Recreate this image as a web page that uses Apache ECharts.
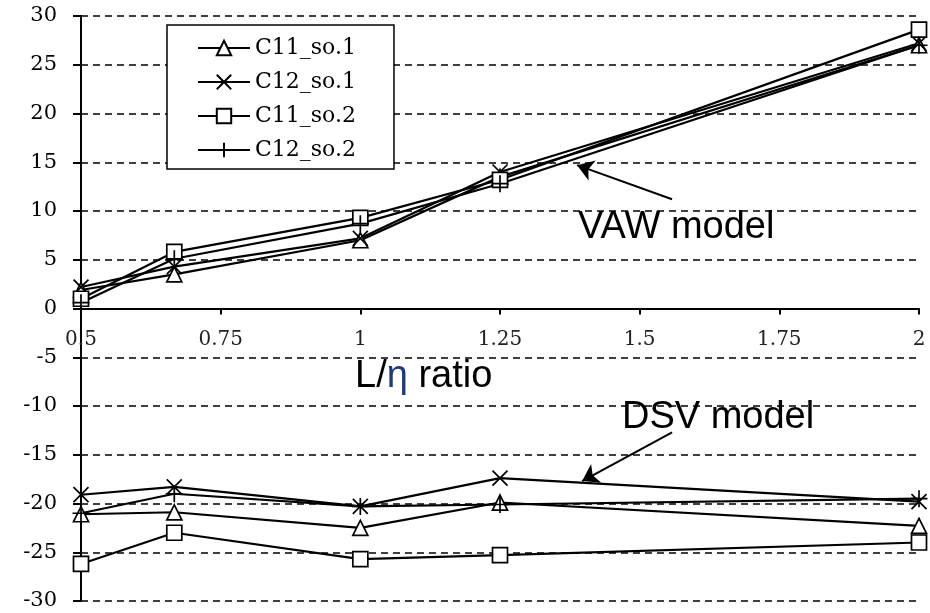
<!DOCTYPE html>
<html>
<head>
<meta charset="utf-8">
<script src="https://cdn.jsdelivr.net/npm/echarts@6/dist/echarts.min.js"></script>
<style>
  html, body { margin: 0; padding: 0; background: #fff; }
  #main { width: 930px; height: 613px; }
</style>
</head>
<body>
<div id="main"></div>
<script>
// x positions (L/eta ratio)
var xVals = [0.5, 0.667, 1, 1.25, 2];

// VAW model (upper group)
var vawC11s01 = [1.9, 3.5, 7.0, 13.5, 27.0];
var vawC12s01 = [2.2, 4.3, 7.2, 14.0, 27.2];
var vawC11s02 = [1.0, 5.8, 9.3, 13.2, 28.6];
var vawC12s02 = [0.6, 5.1, 8.7, 12.8, 27.0];

// DSV model (lower group)
var dsvC11s01 = [-21.1, -20.9, -22.5, -19.9, -22.3];
var dsvC12s01 = [-19.1, -18.3, -20.3, -17.4, -19.8];
var dsvC11s02 = [-26.2, -23.0, -25.7, -25.3, -24.0];
var dsvC12s02 = [-21.0, -19.0, -20.3, -20.1, -19.5];

var names = ['C11_so.1', 'C12_so.1', 'C11_so.2', 'C12_so.2'];

// arrows for the annotations, in data units [from, to]
var vawArrow = [[1.558, 11.2], [1.388, 14.7]];
var dsvArrow = [[1.558, -12.7], [1.397, -17.7]];

var symX = 'path://M0,0 L10,10 M10,0 L0,10';
var symPlus = 'path://M5,0 L5,10 M0,5 L10,5';
var symbols = [['triangle', 15], [symX, 15], ['rect', 15], [symPlus, 17]];

function pairs(arr) {
	return xVals.map(function (x, i) { return [x, arr[i]]; });
}

function mk(idx, arr, arrow) {
	var s = {
		name: names[idx],
		type: 'line',
		data: pairs(arr),
		symbol: symbols[idx][0],
		symbolSize: symbols[idx][1],
		showAllSymbol: true,
		lineStyle: { color: '#000', width: 2.2 },
		itemStyle: { color: '#fff', borderColor: '#000', borderWidth: 1.7 },
		emphasis: { disabled: true },
		clip: false
	};
	if (arrow) {
		s.markLine = {
			silent: true,
			symbol: ['none', 'arrow'],
			symbolSize: 16,
			label: { show: false },
			lineStyle: { color: '#000', width: 2, type: 'solid' },
			data: [[{ coord: arrow[0] }, { coord: arrow[1] }]]
		};
	}
	return s;
}

var myChart = echarts.init(document.getElementById('main'));

var option = {
	animation: false,
	backgroundColor: '#fff',
	grid: { left: 81, right: 11, top: 16, bottom: 12, containLabel: false, outerBoundsMode: 'none' },
	legend: {
		orient: 'vertical',
		left: 167,
		top: 25,
		data: names,
		itemWidth: 52,
		itemHeight: 18,
		itemGap: 12,
		padding: [12, 38, 8, 30],
		borderColor: '#000',
		borderWidth: 1.5,
		borderRadius: 0,
		backgroundColor: '#fff',
		selectedMode: false,
		textStyle: { fontFamily: 'DejaVu Serif', fontSize: 22, color: '#000' }
	},
	xAxis: [{
		type: 'value',
		min: 0.5,
		max: 2,
		interval: 0.25,
		axisLine: { onZero: true, lineStyle: { color: '#000', width: 2 } },
		axisTick: { show: true, inside: false, length: 6, lineStyle: { color: '#000', width: 2 } },
		axisLabel: { show: false },
		splitLine: { show: false }
	}, {
		// label row drawn along the zero line
		type: 'value',
		gridIndex: 0,
		position: 'bottom',
		offset: -292,
		min: 0.5,
		max: 2,
		interval: 0.25,
		axisLine: { show: false, onZero: false },
		axisTick: { show: false },
		axisLabel: {
			margin: 21,
			fontFamily: 'DejaVu Serif',
			fontSize: 20,
			color: '#222',
			showMinLabel: true,
			showMaxLabel: true
		},
		splitLine: { show: false }
	}],
	yAxis: {
		type: 'value',
		min: -30,
		max: 30,
		interval: 5,
		axisLine: { show: true, lineStyle: { color: '#000', width: 2 } },
		axisTick: { show: true, inside: false, length: 8, lineStyle: { color: '#000', width: 2 } },
		axisLabel: { margin: 24, fontFamily: 'DejaVu Serif', fontSize: 21, color: '#000' },
		splitLine: { show: true, lineStyle: { color: '#000', width: 1.5, type: [7, 5] } }
	},
	graphic: [
		{
			type: 'text', x: 578, y: 228, silent: true,
			style: { text: 'VAW model', font: '38px "Liberation Sans", Arial', fill: '#000', textVerticalAlign: 'middle' }
		},
		{
			type: 'text', x: 622, y: 418, silent: true,
			style: { text: 'DSV model', font: '38px "Liberation Sans", Arial', fill: '#000', textVerticalAlign: 'middle' }
		},
		{
			type: 'text', x: 355, y: 377, silent: true,
			style: {
				text: '{a|L/}{b|η}{a| ratio}',
				font: '38px "Liberation Sans", Arial',
				textVerticalAlign: 'middle',
				rich: {
					a: { font: '38px "Liberation Sans", Arial', fill: '#000' },
					b: { font: '38px "Liberation Sans", Arial', fill: '#1f3a78' }
				}
			}
		}
	],
	series: [
		mk(0, vawC11s01),
		mk(1, vawC12s01),
		mk(2, vawC11s02),
		mk(3, vawC12s02, vawArrow),
		mk(0, dsvC11s01),
		mk(1, dsvC12s01, dsvArrow),
		mk(2, dsvC11s02),
		mk(3, dsvC12s02)
	]
};

myChart.setOption(option);
</script>
</body>
</html>
